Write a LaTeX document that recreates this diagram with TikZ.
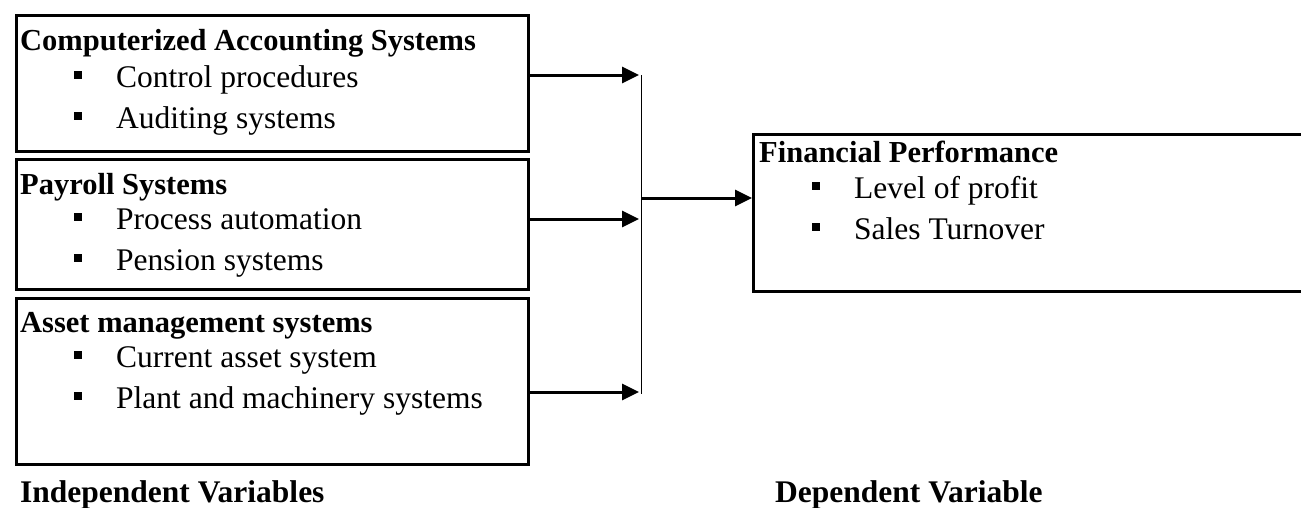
\documentclass[tikz,border=0pt]{standalone}
\usepackage{fontspec}
\setmainfont{Liberation Serif}
\usetikzlibrary{arrows.meta}
\tikzset{
  box/.style={draw, line width=2.8pt, anchor=north west, inner sep=0pt},
  head/.style={anchor=base west, inner sep=0pt, font=\fontsize{30.5}{33}\selectfont\bfseries},
  item/.style={anchor=base west, inner sep=0pt, font=\fontsize{31.5}{34}\selectfont},
  caption/.style={anchor=base west, inner sep=0pt, font=\fontsize{31.5}{34}\selectfont\bfseries},
  arr/.style={line width=3pt, -{Triangle[length=17pt,width=16pt]}},
  thin/.style={line width=1.4pt}
}
\newcommand{\bul}{\rule[8pt]{8pt}{8pt}\hspace{34pt}}
\begin{document}
\begin{tikzpicture}[x=1pt,y=-1pt]
\useasboundingbox (0,0) rectangle (1301,507);
% left boxes
\node[box, minimum width=512pt, minimum height=136pt] (b1) at (15,14) {};
\node[box, minimum width=512pt, minimum height=130pt] (b2) at (15,158) {};
\node[box, minimum width=512pt, minimum height=166pt] (b3) at (15,297) {};
\node[box, minimum width=560pt, minimum height=157pt] (b4) at (752,133) {};
% texts box 1
\node[head] (h1) at (20,50) {Computerized Accounting Systems};
\node[item] (i11) at (74,87) {\bul Control procedures};
\node[item] (i12) at (74,128) {\bul Auditing systems};
% box 2
\node[head] (h2) at (20,194) {Payroll Systems};
\node[item] (i21) at (74,229) {\bul Process automation};
\node[item] (i22) at (74,270) {\bul Pension systems};
% box 3
\node[head] (h3) at (20,332) {Asset management systems};
\node[item] (i31) at (74,367) {\bul Current asset system};
\node[item] (i32) at (74,408) {\bul Plant and machinery systems};
% box 4
\node[head] (h4) at (759,162) {Financial Performance};
\node[item] (i41) at (812,198) {\bul Level of profit};
\node[item] (i42) at (812,239) {\bul Sales Turnover};
% captions
\node[caption] (c1) at (20,502) {Independent Variables};
\node[caption] (c2) at (775,502) {Dependent Variable};
% connectors
\coordinate (t1) at (639,75);
\coordinate (t2) at (639,219);
\coordinate (t3) at (639,392);
\coordinate (v1) at (641.5,75);
\coordinate (v3) at (641.5,394);
\coordinate (vm) at (641.5,198);
\draw[thin] (v1) -- (v3);
\draw[arr] (b1.east |- t1) -- (t1);
\draw[arr] (b2.east |- t2) -- (t2);
\draw[arr] (b3.east |- t3) -- (t3);
\draw[arr] (vm) -- (b4.west |- vm);
\end{tikzpicture}
\end{document}
